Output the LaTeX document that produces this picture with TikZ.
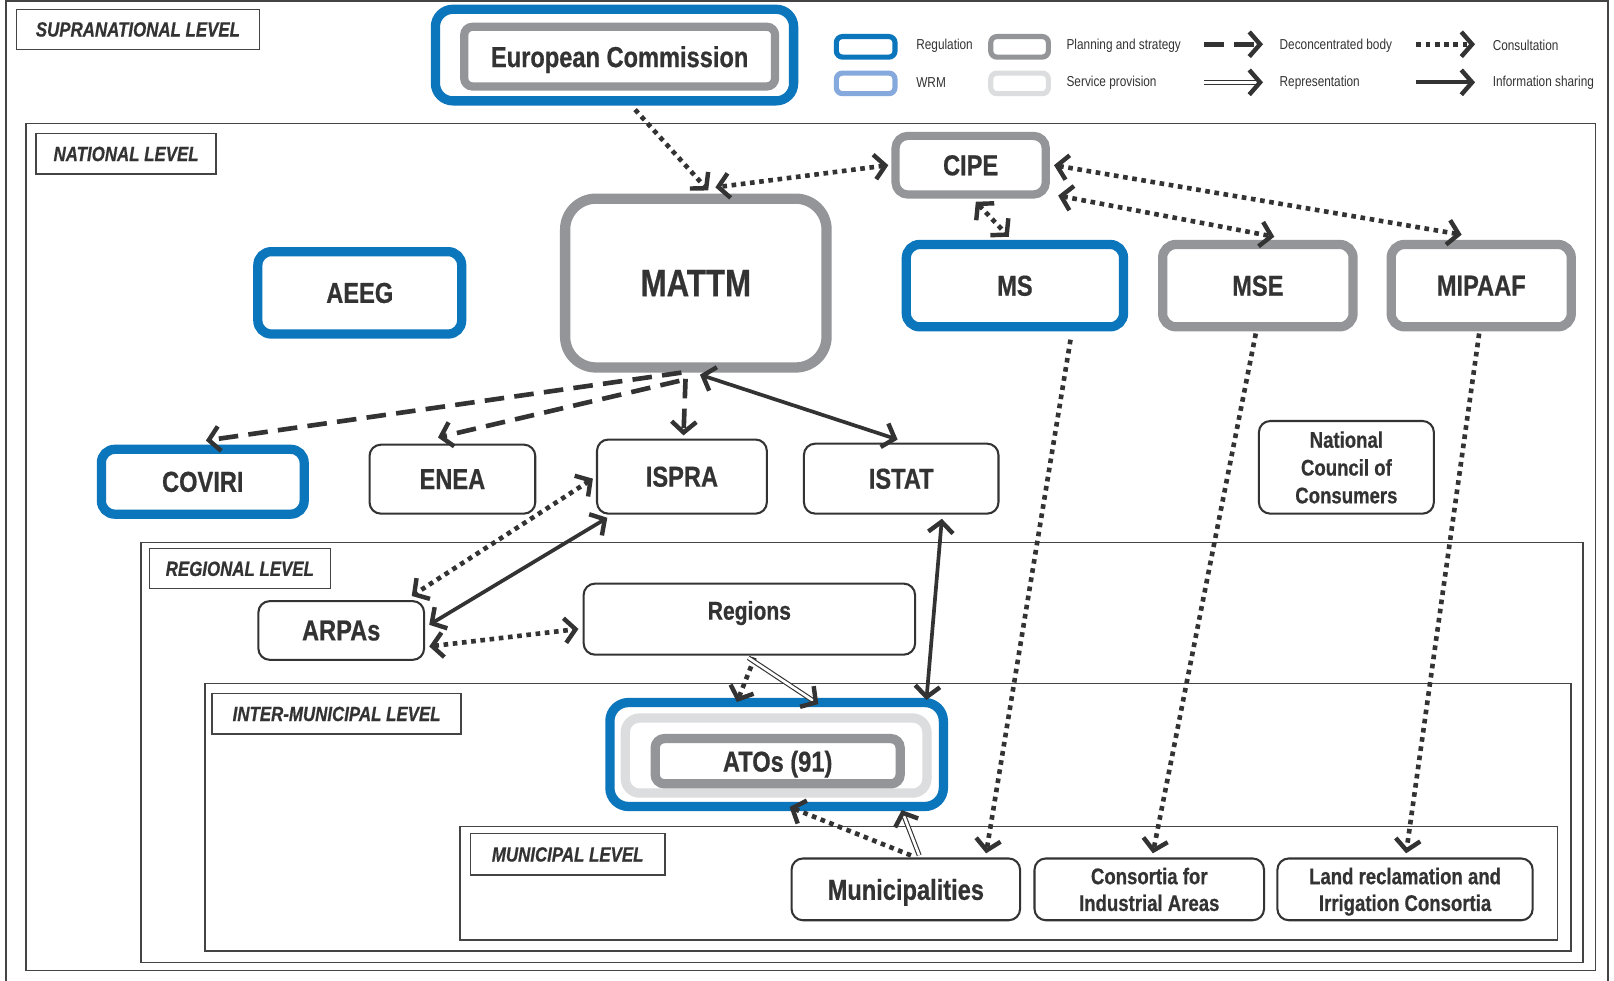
\documentclass[tikz,border=0pt]{standalone}
\usepackage{fontspec}
\setmainfont{Liberation Sans}[FakeStretch=0.82, BoldFeatures={FakeBold=0.6}, BoldItalicFeatures={FakeBold=0.6}]
\usetikzlibrary{arrows.meta}
\definecolor{regblue}{HTML}{0B76BC}
\definecolor{plangrey}{HTML}{939598}
\definecolor{servgrey}{HTML}{DCDDDF}
\definecolor{wrmblue}{HTML}{86A9DD}
\definecolor{ink}{HTML}{333333}
\definecolor{framec}{HTML}{444444}
\begin{document}
\begin{tikzpicture}[x=1pt,y=-1pt,
  every node/.style={text=ink},
  lbl/.style={font=\fontsize{28}{30}\selectfont\bfseries, text depth=0pt},
  thinbox/.style={lbl, draw=ink, line width=2pt, rounded corners=11pt, fill=white, inner sep=2pt},
  regbox/.style={lbl, draw=regblue, line width=9pt, rounded corners=13pt, fill=white, inner sep=2pt},
  planbox/.style={lbl, draw=plangrey, line width=9pt, rounded corners=13pt, fill=white, inner sep=2pt},
  servbox/.style={draw=servgrey, line width=9pt, rounded corners=13pt, fill=white, inner sep=2pt},
  levelbox/.style={draw=framec, line width=1.3pt, fill=white, inner sep=0pt, text depth=0pt,
    font=\fontsize{20}{22}\selectfont\bfseries\itshape},
  frame/.style={draw=framec, line width=1.5pt},
  legtext/.style={anchor=west, inner sep=0pt, font=\fontsize{14}{16}\selectfont},
  barb/.tip={Straight Barb[length=10.5pt,width=24pt,line width=4.3pt]},
  one/.style={-barb},
  both/.style={barb-barb},
  consult/.style={draw=ink, line width=4.5pt, line cap=butt, dash pattern=on 4.5pt off 4.5pt},
  decon/.style={draw=ink, line width=4.5pt, line cap=butt, dash pattern=on 19pt off 10pt},
  info/.style={draw=ink, line width=3.6pt},
  rep/.style={draw=ink, double=white, double distance=2.6pt, line width=1.1pt, shorten >=6pt},
  reptip/.style={draw=ink, line width=3.6pt, line cap=butt, dash pattern=on 0pt off 5000pt, -barb}
]
\useasboundingbox (0,0) rectangle (1568,953);
\fill[white] (0,0) rectangle (1568,953);

% level frames
\draw[frame] (6,953) -- (6,1) -- (1562,1) -- (1562,953);
\draw[frame] (25,120) rectangle (1550,943);
\draw[frame] (137,527) rectangle (1538,935);
\draw[frame] (199,664) rectangle (1526,924);
\draw[frame] (447,803) rectangle (1513,913);

% level labels
\node[levelbox, minimum width=236pt, minimum height=39pt] (lsup) at (134,28.5) {SUPRANATIONAL LEVEL};
\node[levelbox, minimum width=175pt, minimum height=39pt] (lnat) at (122.5,149.5) {NATIONAL LEVEL};
\node[levelbox, minimum width=176pt, minimum height=39pt] (lreg) at (233,552.5) {REGIONAL LEVEL};
\node[levelbox, minimum width=242pt, minimum height=39pt] (lint) at (327,693.5) {INTER-MUNICIPAL LEVEL};
\node[levelbox, minimum width=189pt, minimum height=40pt] (lmun) at (551.5,830) {MUNICIPAL LEVEL};

% legend
\node[draw=regblue, line width=5pt, rounded corners=6pt, minimum width=57pt, minimum height=20pt] (lg1) at (841,45.5) {};
\node[draw=wrmblue, line width=5pt, rounded corners=6pt, minimum width=57pt, minimum height=20pt] (lg2) at (841,81) {};
\node[draw=plangrey, line width=5pt, rounded corners=6pt, minimum width=56pt, minimum height=20pt] (lg3) at (990.5,45.5) {};
\node[draw=servgrey, line width=5pt, rounded corners=6pt, minimum width=56pt, minimum height=20pt] (lg4) at (990.5,81) {};
\node[legtext] (t1) at (890,44.5) {Regulation};
\node[legtext] (t2) at (890,80.5) {WRM};
\node[legtext] (t3) at (1036,44.5) {Planning and strategy};
\node[legtext] (t4) at (1036,80.5) {Service provision};
\node[legtext] (t5) at (1243,44.5) {Deconcentrated body};
\node[legtext] (t6) at (1243,80.5) {Representation};
\node[legtext] (t7) at (1450,44.5) {Consultation};
\node[legtext] (t8) at (1450,80.5) {Information sharing};
\coordinate (d1) at (1170,43); \coordinate (d2) at (1227,43);
\coordinate (c1) at (1376,43); \coordinate (c2) at (1433,43);
\coordinate (r1) at (1170,80); \coordinate (r2) at (1227,80);
\coordinate (i1) at (1376,80); \coordinate (i2) at (1433,80);
\draw[decon, one] (d1) -- (d2);
\draw[consult, one] (c1) -- (c2);
\draw[rep] (r1) -- (r2);
\draw[reptip] (r1) -- (r2);
\draw[info, one] (i1) -- (i2);

% supranational
\node[regbox, minimum width=348pt, minimum height=89pt, rounded corners=17pt] (ec) at (597,53.5) {};
\node[planbox, line width=8pt, minimum width=302pt, minimum height=58pt, rounded corners=8pt] (ec2) at (602,55) {European Commission};

% national
\node[planbox, line width=10pt, minimum width=254pt, minimum height=164pt, rounded corners=30pt,
      font=\fontsize{37}{40}\selectfont\bfseries] (mattm) at (676,275) {MATTM};
\node[planbox, line width=8pt, minimum width=146pt, minimum height=57pt, rounded corners=12pt] (cipe) at (943,160.5) {CIPE};
\node[regbox, minimum width=198pt, minimum height=80pt] (aeeg) at (349.5,284.5) {AEEG};
\node[regbox, minimum width=211pt, minimum height=80pt] (ms) at (986,277.5) {MS};
\node[planbox, minimum width=185pt, minimum height=80pt] (mse) at (1222,277.5) {MSE};
\node[planbox, minimum width=175pt, minimum height=80pt] (mipaaf) at (1439,277.5) {MIPAAF};
\node[regbox, minimum width=197pt, minimum height=63pt] (coviri) at (197,468) {COVIRI};
\node[thinbox, minimum width=161pt, minimum height=67pt] (enea) at (439.5,465.5) {ENEA};
\node[thinbox, minimum width=165pt, minimum height=72pt] (ispra) at (662.5,463) {ISPRA};
\node[thinbox, minimum width=189pt, minimum height=68pt] (istat) at (875.5,465) {ISTAT};
\node[thinbox, minimum width=170pt, minimum height=90pt, align=center,
      font=\fontsize{22}{27}\selectfont\bfseries] (ncc) at (1308,454) {National\\Council of\\Consumers};

% regional
\node[thinbox, minimum width=161pt, minimum height=57pt] (arpas) at (331.5,612.5) {ARPAs};
\node[thinbox, minimum width=322pt, minimum height=69pt, font=\fontsize{25}{27}\selectfont\bfseries,
      text height=18pt, text depth=17pt] (regions) at (728,601.5) {Regions};

% inter-municipal
\node[regbox, minimum width=324pt, minimum height=101pt, rounded corners=18pt] (atos) at (754.5,733) {};
\node[servbox, minimum width=293pt, minimum height=73pt, rounded corners=14pt] (atos2) at (754,734) {};
\node[planbox, minimum width=238pt, minimum height=44pt, rounded corners=9pt] (atos3) at (755.5,739.5) {ATOs (91)};

% municipal
\node[thinbox, minimum width=222pt, minimum height=60pt] (muni) at (880,864) {Municipalities};
\node[thinbox, minimum width=223pt, minimum height=60pt, align=center,
      font=\fontsize{22}{26}\selectfont\bfseries] (cons) at (1116.5,864) {Consortia for\\Industrial Areas};
\node[thinbox, minimum width=248pt, minimum height=60pt, align=center,
      font=\fontsize{22}{26}\selectfont\bfseries] (land) at (1365,864) {Land reclamation and\\Irrigation Consortia};

% connectors
\draw[consult, one] ([shift={(20,4)}]ec.south) -- ([shift={(12,-3)}]mattm.north);
\draw[consult, both] ([shift={(-3,0)}]cipe.west) -- ([shift={(19,-6)}]mattm.north);
\draw[consult, both] ([shift={(5,3)}]cipe.south) -- ([shift={(-6,-3)}]ms.north);
\draw[consult, both] ([shift={(8,-3)}]cipe.south east) -- ([shift={(16,-3)}]mse.north);
\draw[consult, both] ([shift={(4,0)}]cipe.east) -- ([shift={(-19,-5)}]mipaaf.north);
\draw[consult, one] ([shift={(54,8)}]ms.south) -- ([shift={(78,-4)}]muni.north);
\draw[consult, one] ([shift={(-2,2)}]mse.south) -- ([shift={(3.5,-4)}]cons.north);
\draw[consult, one] ([shift={(-2,2)}]mipaaf.south) -- ([shift={(1,-4)}]land.north);

\draw[decon, one] ([shift={(-14,0)}]mattm.south) -- ([shift={(3,-4)}]coviri.north);
\draw[decon, one] ([shift={(-16,8)}]mattm.south) -- ([shift={(-14,-6)}]enea.north);
\draw[decon, one] ([shift={(-10,6)}]mattm.south) -- ([shift={(1.5,-3)}]ispra.north);
\draw[info, both] ([shift={(4,2)}]mattm.south) -- ([shift={(-3.5,-3)}]istat.north);

\draw[consult, both] ([shift={(-3,2)}]ispra.west) -- ([shift={(68.5,-4)}]arpas.north);
\draw[info, both] ([shift={(-72.5,3)}]ispra.south) -- ([shift={(4,-5.5)}]arpas.east);
\draw[consult, both] ([shift={(4,15.5)}]arpas.east) -- ([shift={(-4,9.5)}]regions.west);

\draw[consult, one] ([shift={(5,2)}]regions.south) -- ([shift={(-38.5,4)}]atos.north);
\draw[rep] ([shift={(-1,2)}]regions.south) -- ([shift={(40.5,6)}]atos.north);
\draw[reptip] ([shift={(-1,2)}]regions.south) -- ([shift={(40.5,6)}]atos.north);
\draw[info, both] ([shift={(39.5,4)}]istat.south) -- ([shift={(145.5,2)}]atos.north);

\draw[consult, one] ([shift={(5,-2)}]muni.north) -- ([shift={(12.5,-4)}]atos.south);
\draw[rep] ([shift={(13,-2)}]muni.north) -- ([shift={(121.5,-1)}]atos.south);
\draw[reptip] ([shift={(13,-2)}]muni.north) -- ([shift={(121.5,-1)}]atos.south);
\end{tikzpicture}
\end{document}
